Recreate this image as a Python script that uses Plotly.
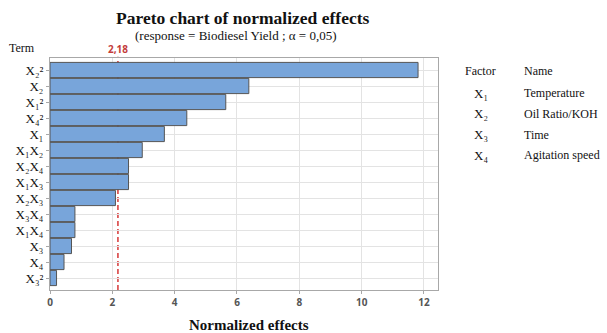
import plotly.graph_objects as go

terms = ["X₂²", "X₂", "X₁²", "X₄²", "X₁", "X₁X₂", "X₂X₄", "X₁X₃",
         "X₂X₃", "X₃X₄", "X₁X₄", "X₃", "X₄", "X₃²"]
effects = [11.81, 6.38, 5.64, 4.39, 3.67, 2.96, 2.52, 2.52, 2.10, 0.80, 0.80, 0.69, 0.45, 0.21]
critical = 2.18
x_ticks = [0, 2, 4, 6, 8, 10, 12]
factors = ["X₁", "X₂", "X₃", "X₄"]
names = ["Temperature", "Oil Ratio/KOH", "Time", "Agitation speed"]

W, H = 607, 333
L, R, T, B = 50, 438, 58, 290
def px(x): return (x - L) / (R - L)
def py(y): return (B - y) / (B - T)

serif = "Liberation Serif, Times New Roman, serif"

fig = go.Figure()
fig.add_trace(go.Bar(
    x=effects, y=list(range(len(terms))), orientation="h",
    marker=dict(color="#78A5DA", line=dict(color="#555555", width=1)),
    width=0.95, hoverinfo="x",
))
fig.add_shape(type="line", xref="x", yref="paper", x0=critical, x1=critical, y0=0, y1=1.005,
              layer="below", line=dict(color="#D01818", width=1.3, dash="5px,3px"))

ann = []
def add(text, x, y, size, xanchor="left", color="#111", family=serif, xref="paper"):
    ann.append(dict(text=text, x=x, y=y, xref=xref, yref="paper", showarrow=False,
                    font=dict(family=family, size=size, color=color), xanchor=xanchor, yanchor="middle"))

add("<b>Pareto chart of normalized effects</b>", px(243), py(18), 17.5, "center")
add("(response = Biodiesel Yield ; α = 0,05)", px(236), py(35), 13, "center")
add("Term", px(7), py(48), 12)
add("<b>2,18</b>", critical, py(49), 10, "center", "#C43C3C", "Open Sans, sans-serif", "x")
add("<b>Normalized effects</b>", px(249), py(325), 15, "center")
add("Factor", px(463), py(71), 12)
add("Name", px(522), py(71), 12)
for i, (f, n) in enumerate(zip(factors, names)):
    yy = 93 + i * 20.8
    add(f, px(472), py(yy), 13)
    add(n, px(522), py(yy), 12)

fig.update_layout(
    width=W, height=H, margin=dict(l=L, r=W - R, t=T, b=H - B),
    paper_bgcolor="white", plot_bgcolor="white", showlegend=False,
    bargap=0.05, annotations=ann,
    xaxis=dict(range=[0, 12.45], tickvals=x_ticks, ticktext=["<b>%d</b>" % v for v in x_ticks],
               showgrid=True, gridcolor="#E3E3E3", gridwidth=1, zeroline=False,
               showline=True, linecolor="#A8A8A8", linewidth=1, mirror=True,
               ticks="outside", ticklen=3, tickcolor="#A8A8A8",
               tickfont=dict(family="Open Sans, sans-serif", size=10, color="#555")),
    yaxis=dict(range=[13.75, -0.75], tickvals=list(range(len(terms))), ticktext=terms,
               showgrid=True, gridcolor="#E3E3E3", gridwidth=1, zeroline=False,
               showline=True, linecolor="#A8A8A8", linewidth=1, mirror=True,
               ticks="outside", ticklen=3, tickcolor="#A8A8A8",
               tickfont=dict(family=serif, size=13, color="#111")),
)
fig.write_html("out.html")
